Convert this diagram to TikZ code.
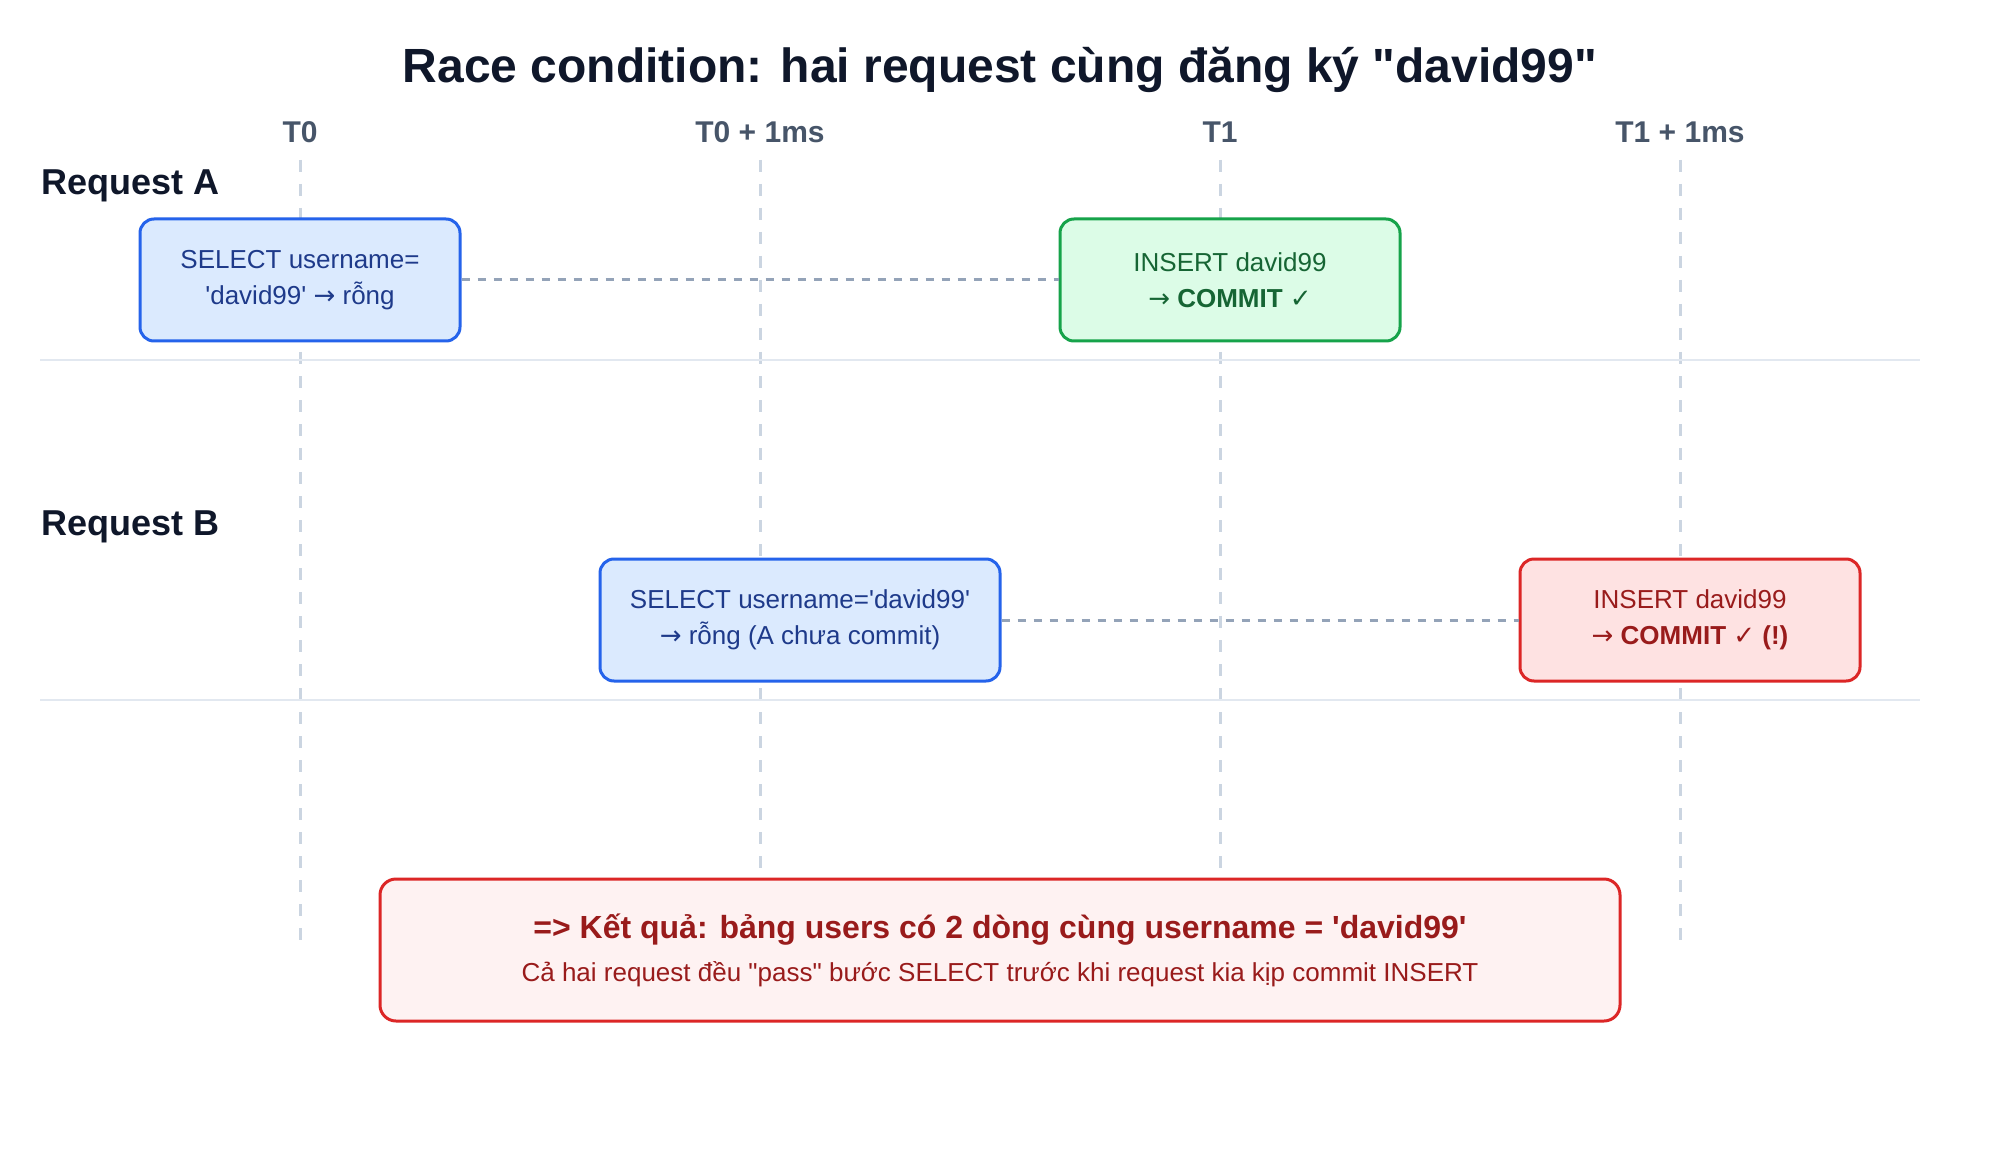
\documentclass[tikz,border=0pt]{standalone}
\usepackage{fontspec}
\setmainfont{Liberation Sans}[Ligatures=TeXOff]
\newfontfamily\symfont{DejaVu Sans}
\usepackage{xcolor}
\definecolor{ink}{HTML}{0F172A}
\definecolor{slate}{HTML}{475569}
\definecolor{gridc}{HTML}{CBD5E1}
\definecolor{sepc}{HTML}{E2E8F0}
\definecolor{linkc}{HTML}{94A3B8}
\definecolor{blueb}{HTML}{2563EB}
\definecolor{bluef}{HTML}{DBEAFE}
\definecolor{bluet}{HTML}{1E3A8A}
\definecolor{greenb}{HTML}{16A34A}
\definecolor{greenf}{HTML}{DCFCE7}
\definecolor{greent}{HTML}{166534}
\definecolor{redb}{HTML}{DC2626}
\definecolor{redf}{HTML}{FEE2E2}
\definecolor{redt}{HTML}{991B1B}
\definecolor{redl}{HTML}{FEF2F2}
\newcommand{\rarr}{{\symfont\mdseries →}}

\tikzset{
  stepbox/.style={draw, rounded corners=7pt, line width=1.5pt, inner sep=0pt,
    minimum height=61pt, align=center, font=\fontsize{13}{18}\selectfont},
  selbox/.style={stepbox, draw=blueb, fill=bluef, text=bluet},
  okbox/.style={stepbox, draw=greenb, fill=greenf, text=greent},
  badbox/.style={stepbox, draw=redb, fill=redf, text=redt},
  timelbl/.style={anchor=base, text=slate, font=\fontsize{15}{18}\selectfont\bfseries},
  reqlbl/.style={anchor=base west, text=ink, inner sep=0pt, font=\fontsize{18}{21}\selectfont\bfseries},
  gridline/.style={draw=gridc, line width=1.5pt, dash pattern=on 6pt off 6pt},
  sepline/.style={draw=sepc, line width=1pt},
  link/.style={draw=linkc, line width=1.5pt, dash pattern=on 4pt off 4pt}
}

\begin{document}
\begin{tikzpicture}[x=1pt, y=-1pt]
  \useasboundingbox[fill=white] (0,0) rectangle (1000,580);

  \node[anchor=base, text=ink, font=\fontsize{24}{29}\selectfont\bfseries] (title) at (500,41.5)
    {Race condition: hai request cùng đăng ký "david99"};

  \foreach \x/\t [count=\i] in {150/T0, 380/T0 + 1ms, 610/T1, 840/T1 + 1ms} {
    \node[timelbl] (t\i) at (\x,71.5) {\t};
    \coordinate (top\i) at (\x,80);
    \coordinate (bot\i) at (\x,474);
    \draw[gridline] (top\i) -- (bot\i);
  }

  \coordinate (sepAl) at (20,180);
  \coordinate (sepAr) at (960,180);
  \coordinate (sepBl) at (20,350);
  \coordinate (sepBr) at (960,350);
  \draw[sepline] (sepAl) -- (sepAr);
  \draw[sepline] (sepBl) -- (sepBr);

  \node[reqlbl] (reqA) at (20.5,97.5) {Request A};
  \node[reqlbl] (reqB) at (20.5,267.5) {Request B};

  \node[selbox, minimum width=160pt] (selA) at (150,140)
    {SELECT username=\\'david99' \rarr{} rỗng};
  \node[okbox, minimum width=170pt] (insA) at (615,140)
    {INSERT david99\\\textbf{\rarr{} COMMIT {\symfont ✓}}};
  \node[selbox, minimum width=200pt] (selB) at (400,310)
    {SELECT username='david99'\\\rarr{} rỗng (A chưa commit)};
  \node[badbox, minimum width=170pt] (insB) at (845,310)
    {INSERT david99\\\textbf{\rarr{} COMMIT {\symfont ✓} (!)}};

  \draw[link] (selA.east) -- (insA.west);
  \draw[link] (selB.east) -- (insB.west);

  \node[draw=redb, fill=redl, text=redt, rounded corners=8pt, line width=1.5pt, inner sep=0pt,
        minimum width=620pt, minimum height=71pt, align=center,
        font=\fontsize{13}{21.5}\selectfont] (result) at (500,475)
    {{\fontsize{16}{21.5}\selectfont\bfseries => Kết quả: bảng users có 2 dòng cùng username = 'david99'}\\
     Cả hai request đều "pass" bước SELECT trước khi request kia kịp commit INSERT};
\end{tikzpicture}
\end{document}
